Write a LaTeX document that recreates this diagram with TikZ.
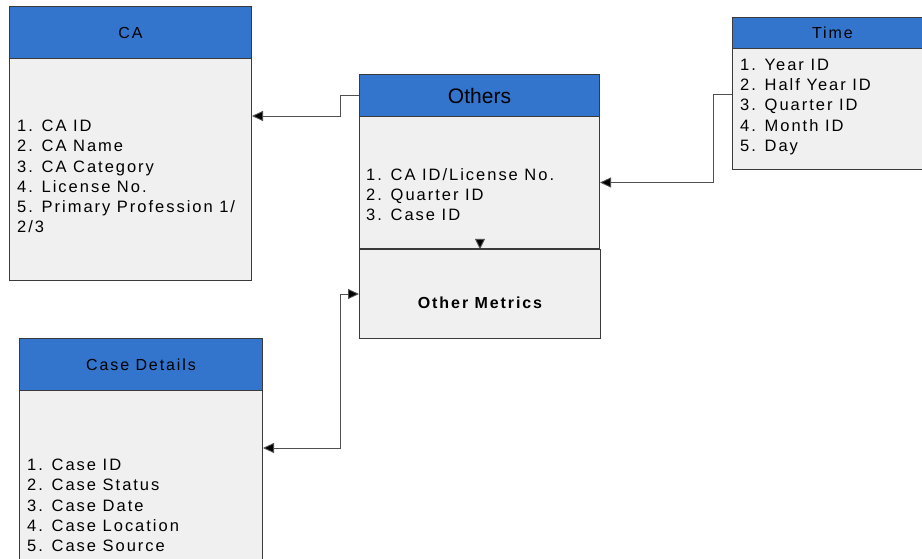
\documentclass[tikz,border=0pt]{standalone}
\usepackage{fontspec}
\setmainfont{Liberation Sans}
\newfontfamily\spaced[LetterSpace=12]{Liberation Sans}
\usetikzlibrary{arrows.meta,calc}
\definecolor{hdrblue}{HTML}{3375CC}
\definecolor{bodygray}{HTML}{F0F0F0}
\definecolor{edgegray}{HTML}{3A3A3A}
\definecolor{linegray}{HTML}{505050}
\begin{document}
\begin{tikzpicture}[x=1pt,y=-1pt,
  hdr/.style={draw=edgegray,fill=hdrblue,line width=1pt,inner sep=0pt,anchor=north west,
    font=\fontsize{16}{18}\spaced},
  bodybox/.style={draw=edgegray,fill=bodygray,line width=1pt,inner sep=0pt,anchor=north west},
  items/.style={anchor=north west,inner sep=0pt,align=left,
    font=\fontsize{16.5}{20.2}\spaced},
  conn/.style={draw=linegray,line width=0.9pt},
  tip/.style={-{Triangle[length=11pt,width=10pt,fill=black]}},
  tipdown/.style={-{Triangle[length=10pt,width=10pt,fill=black]}},
  tips/.style={{Triangle[length=11pt,width=10pt,fill=black]}-{Triangle[length=11pt,width=10pt,fill=black]}}]
\useasboundingbox (0,0) rectangle (922,559);

% CA table
\node[bodybox,minimum width=242,minimum height=222] (caB) at (9,58) {};
\node[hdr,minimum width=242,minimum height=52] (caH) at (9,6) {CA};
\node[items] (caL) at (17,120) {1. CA ID\\2. CA Name\\3. CA Category\\4. License No.\\5. Primary Profession 1/\\2/3};

% Others table
\node[bodybox,minimum width=240,minimum height=132] (othB) at (359,116) {};
\node[hdr,minimum width=240,minimum height=42,font=\fontsize{21}{24}\selectfont] (othH) at (359,74) {Others};
\node[items] (othL) at (366,168) {1. CA ID/License No.\\2. Quarter ID\\3. Case ID};

% Other metrics box
\node[bodybox,minimum width=241,minimum height=89] (om) at (359,249) {};
\node[font=\fontsize{16}{18}\spaced\bfseries,inner sep=0pt] (omT) at ($(om.center)+(0,9)$) {Other Metrics};

% Time table
\node[bodybox,minimum width=200,minimum height=121] (timeB) at (732,48) {};
\node[hdr,minimum width=200,minimum height=31] (timeH) at (732,17) {Time};
\node[items] (timeL) at (740,59) {1. Year ID\\2. Half Year ID\\3. Quarter ID\\4. Month ID\\5. Day};

% Case details table
\node[bodybox,minimum width=243,minimum height=190] (caseB) at (19,390) {};
\node[hdr,minimum width=243,minimum height=52] (caseH) at (19,338) {Case Details};
\node[items] (caseL) at (27,459) {1. Case ID\\2. Case Status\\3. Case Date\\4. Case Location\\5. Case Source};

% connector end points on box sides
\coordinate (caIn) at ($(caB.north east)+(0,58)$);
\coordinate (timeOut) at ($(timeB.north west)+(0,46)$);
\coordinate (caseIn) at ($(caseB.north east)+(0,58)$);

% connectors
\draw[conn,tip] (othH.west) -- ++(-19,0) |- (caIn);
\draw[conn,tip] (timeOut) -- ++(-19,0) |- (othB.east);
\draw[conn,tips] (caseIn) -| ($(om.west)+(-19,0)$) -- (om.west);
\draw[conn,tipdown] ($(om.north)+(0,-10)$) -- (om.north);
\end{tikzpicture}
\end{document}
